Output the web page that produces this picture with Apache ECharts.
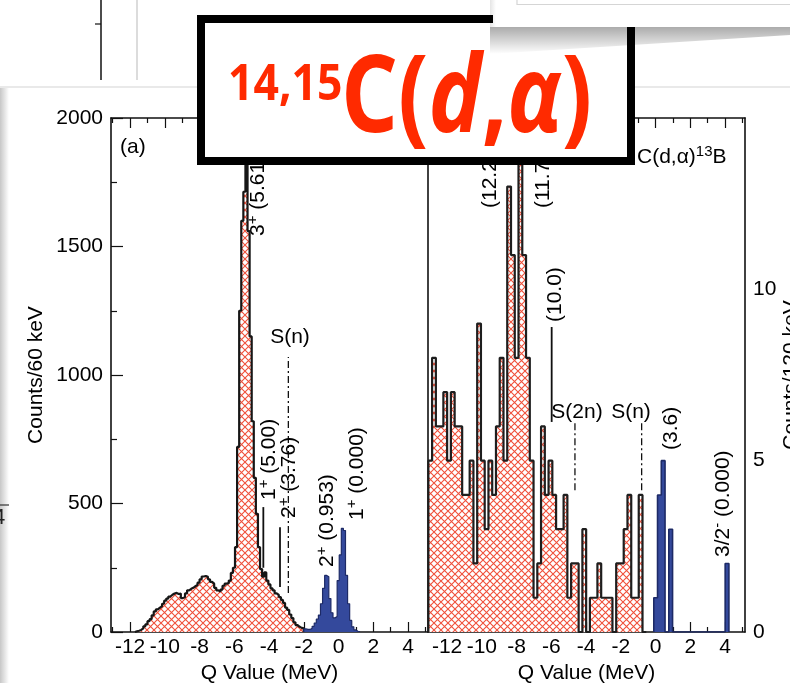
<!DOCTYPE html>
<html><head><meta charset="utf-8">
<script src="https://cdn.jsdelivr.net/npm/echarts@6/dist/echarts.min.js"></script>
<style>html,body{margin:0;padding:0;background:#fff}#c{width:790px;height:683px}</style>
</head><body><div id="c"></div>
<script>
// ---------------- data ----------------
const qMin = -13.1, qMax = 5.15;
const xTickLabels = [-12, -10, -8, -6, -4, -2, 0, 2, 4];
const xMinorTicks = [-13, -11, -9, -7, -5, -3, -1, 1, 3, 5];
const leftYLabels = [0, 500, 1000, 1500, 2000];
const leftYMinor = [250, 750, 1250, 1750];
const rightYLabels = [0, 5, 10];

// 14C(d,alpha) - counts per bin
const leftBinWidth = 0.12;
const leftRedStart = -11.72;
const leftRedCounts = [3,5,8,14,22,30,42,50,65,80,88,95,100,110,122,130,138,145,150,152,
  148,150,132,135,150,162,168,172,178,183,192,205,216,218,215,205,195,188,172,162,
  157,165,180,188,190,200,230,250,330,720,1250,1600,1713,1950,1560,1150,820,600,460,
  330,245,215,232,200,185,170,162,150,144,136,125,113,95,86,68,54,38,27,20,16,14];
const leftBlueStart = -2.0;
const leftBlueCounts = [12,10,10,14,22,35,50,66,110,170,220,215,130,75,55,60,200,300,403,395,220,110,45,20,8,3,2];

// 15C(d,alpha)13B - counts per bin
const rightBinWidth = 0.2163;
const rightRedStart = -13.08;
const rightRedCounts = [5,8,6,6,7,5,7,6,6,4,4,5,2,9,5,3,5,4,6,8,5,13,11,8,15,11,8,5,1,2,
  6,4,5,4,3,3,4,1,2,2,0,3,0,1,1,2,1,1,1,0,2,2,3,4,1,1,4,0];
const rightBlueFirstBin = 60;
const rightBlueCounts = [1,4,5,0,3,0,0,0,0,0,0,0,0,0,0,0,0,0,0,2];

// level / threshold markers: [Q, from count, to count, dashed]
const leftMarkers = [[-4.33, 250, 486, false], [-3.37, 175, 408, false], [-2.89, 152, 1070, true]];
const rightMarkers = [[-5.98, 6.13, 8.9, false], [-4.64, 4.14, 6.1, true], [-0.80, 4.14, 6.1, true]];

// ---------------- helpers ----------------
const FONT = '"Liberation Sans", Arial, Helvetica, sans-serif';
const plain = v => String(v);
function stepPoints(start, w, counts) {
  const pts = [[start, 0]];
  counts.forEach((c, i) => { pts.push([start + i * w, c]); pts.push([start + (i + 1) * w, c]); });
  pts.push([start + counts.length * w, 0]);
  return pts;
}
const pc = document.createElement('canvas');
pc.width = 7; pc.height = 7;
const g = pc.getContext('2d');
g.fillStyle = '#ffffff'; g.fillRect(0, 0, 7, 7);
g.strokeStyle = '#f0503a'; g.lineWidth = 1.1;
g.beginPath(); g.moveTo(-1, -1); g.lineTo(8, 8); g.moveTo(8, -1); g.lineTo(-1, 8); g.stroke();
const hatch = { image: pc, repeat: 'repeat' };

const lineCol = '#111';
function xAxes(gi) {
  const base = { gridIndex: gi, type: 'value', min: qMin, max: qMax, splitLine: { show: false }, axisLine: { show: false, onZero: false } };
  return [
    Object.assign({}, base, {
      position: 'bottom',
      axisLine: { show: true, onZero: false, lineStyle: { color: lineCol, width: 1.6 } },
      axisTick: { show: true, inside: true, length: 10, customValues: xTickLabels, lineStyle: { color: lineCol, width: 1.2 } },
      axisLabel: { show: true, customValues: xTickLabels, formatter: plain, margin: 5, fontSize: 21, color: '#000', fontFamily: FONT },
      name: 'Q Value (MeV)', nameLocation: 'middle', nameGap: 24,
      nameTextStyle: { fontSize: 21, color: '#000', fontFamily: FONT }
    }),
    Object.assign({}, base, {
      position: 'bottom',
      axisTick: { show: true, inside: true, length: 5, customValues: xMinorTicks, lineStyle: { color: lineCol, width: 1.2 } },
      axisLabel: { show: false }
    }),
    Object.assign({}, base, {
      position: 'top',
      axisLine: { show: true, onZero: false, lineStyle: { color: lineCol, width: 1.6 } },
      axisTick: { show: true, inside: true, length: 10, customValues: xTickLabels, lineStyle: { color: lineCol, width: 1.2 } },
      axisLabel: { show: false }
    }),
    Object.assign({}, base, {
      position: 'top',
      axisTick: { show: true, inside: true, length: 5, customValues: xMinorTicks, lineStyle: { color: lineCol, width: 1.2 } },
      axisLabel: { show: false }
    })
  ];
}

const yAxis = [
  { gridIndex: 0, type: 'value', min: 0, max: 2000, position: 'left', splitLine: { show: false },
    axisLine: { show: true, onZero: false, lineStyle: { color: lineCol, width: 1.6 } },
    axisTick: { show: true, inside: true, length: 12, customValues: leftYLabels, lineStyle: { color: lineCol, width: 1.2 } },
    axisLabel: { show: true, customValues: leftYLabels, formatter: plain, margin: 8, fontSize: 21, color: '#000', fontFamily: FONT },
    name: 'Counts/60 keV', nameLocation: 'middle', nameGap: 64, nameRotate: 90,
    nameTextStyle: { fontSize: 21, color: '#000', fontFamily: FONT } },
  { gridIndex: 0, type: 'value', min: 0, max: 2000, position: 'left', splitLine: { show: false },
    axisLine: { show: false, onZero: false }, axisLabel: { show: false },
    axisTick: { show: true, inside: true, length: 6, customValues: leftYMinor, lineStyle: { color: lineCol, width: 1.2 } } },
  { gridIndex: 0, type: 'value', min: 0, max: 2000, position: 'right', splitLine: { show: false },
    axisLine: { show: true, onZero: false, lineStyle: { color: lineCol, width: 1.6 } }, axisTick: { show: false }, axisLabel: { show: false } },
  { gridIndex: 1, type: 'value', min: 0, max: 15, position: 'right', splitLine: { show: false },
    axisLine: { show: true, onZero: false, lineStyle: { color: lineCol, width: 1.6 } }, axisTick: { show: false },
    axisLabel: { show: true, customValues: rightYLabels, formatter: plain, margin: 8, fontSize: 21, color: '#000', fontFamily: FONT },
    name: 'Counts/120 keV', nameLocation: 'middle', nameGap: 35, nameRotate: 90,
    nameTextStyle: { fontSize: 21, color: '#000', fontFamily: FONT } },
  { gridIndex: 1, type: 'value', min: 0, max: 15, position: 'left', splitLine: { show: false },
    axisLine: { show: false, onZero: false }, axisTick: { show: false }, axisLabel: { show: false } }
];

function histSeries(pts, xi, yi, area, lw, lc, z) {
  return { type: 'line', data: pts, xAxisIndex: xi, yAxisIndex: yi, symbol: 'none', animation: false, clip: true, z: z,
    lineStyle: { color: lc, width: lw }, areaStyle: { color: area, opacity: 1 } };
}
function markerSeries(m, xi, yi) {
  return { type: 'line', data: [[m[0], m[1]], [m[0], m[2]]], xAxisIndex: xi, yAxisIndex: yi, symbol: 'none', animation: false, z: 5,
    lineStyle: { color: '#111', width: m[3] ? 1.3 : 1.8, type: m[3] ? [7, 3, 2, 3] : 'solid' } };
}

const series = [
  histSeries(stepPoints(leftRedStart, leftBinWidth, leftRedCounts), 0, 0, hatch, 2.2, '#161616', 2),
  histSeries(stepPoints(leftBlueStart, leftBinWidth, leftBlueCounts), 0, 0, '#34499c', 1.2, '#1d2a66', 3),
  histSeries(stepPoints(rightRedStart, rightBinWidth, rightRedCounts), 4, 3, hatch, 2.2, '#1e1e1e', 2),
  histSeries(stepPoints(rightRedStart + rightBlueFirstBin * rightBinWidth, rightBinWidth, rightBlueCounts), 4, 3, '#34499c', 1.6, '#1d2a66', 3)
];
leftMarkers.forEach(m => series.push(markerSeries(m, 0, 0)));
rightMarkers.forEach(m => series.push(markerSeries(m, 4, 3)));

// ---------------- annotations ----------------
const rich = {
  n: { fontSize: 21, fontFamily: FONT, fill: '#000', lineHeight: 25 },
  s: { fontSize: 15, fontFamily: FONT, fill: '#000', verticalAlign: 'top', lineHeight: 25 }
};
function vtext(x, y, t) {
  return { type: 'text', x: x, y: y, rotation: Math.PI / 2, z: 20,
    style: { text: t, rich: rich, align: 'left', verticalAlign: 'middle' } };
}
function htext(x, y, t, align) {
  return { type: 'text', x: x, y: y, z: 20,
    style: { text: t, rich: rich, align: align || 'center', verticalAlign: 'middle' } };
}
const grad = (x0, y0, x1, y1, a) => new echarts.graphic.LinearGradient(x0, y0, x1, y1,
  [{ offset: 0, color: 'rgba(0,0,0,' + a + ')' }, { offset: 1, color: 'rgba(0,0,0,0)' }]);

const graphic = [
  // slide background pieces
  { type: 'line', z: 1, shape: { x1: 0, y1: 87, x2: 790, y2: 87 }, style: { stroke: '#e2e2e2', lineWidth: 1.5 } },
  { type: 'line', z: 1, shape: { x1: 101, y1: 0, x2: 101, y2: 80 }, style: { stroke: '#111', lineWidth: 1.5 } },
  { type: 'line', z: 1, shape: { x1: 95, y1: 24, x2: 101, y2: 24 }, style: { stroke: '#111', lineWidth: 1.2 } },
  { type: 'line', z: 1, shape: { x1: 137, y1: 0, x2: 137, y2: 80 }, style: { stroke: '#dcdcdc', lineWidth: 2 } },
  { type: 'rect', z: 1, shape: { x: 0, y: 88, width: 9, height: 595 }, style: { fill: grad(0, 0, 1, 0, 0.22) } },
  { type: 'line', z: 1, shape: { x1: 0, y1: 505, x2: 9, y2: 505 }, style: { stroke: '#333', lineWidth: 1.2 } },
  { type: 'text', z: 1, x: -7, y: 518, style: { text: '4', fontSize: 22, fontFamily: FONT, fill: '#222', verticalAlign: 'middle' } },
  // annotations
  htext(120, 147, '{n|(a)}', 'left'),
  vtext(258, 236, '{n|3}{s|+}{n| (5.61)}'),
  htext(290, 337, '{n|S(n)}'),
  vtext(269, 500, '{n|1}{s|+}{n| (5.00)}'),
  vtext(289, 518, '{n|2}{s|+}{n| (3.76)}'),
  vtext(327, 567, '{n|2}{s|+}{n| (0.953)}'),
  vtext(357, 520, '{n|1}{s|+}{n| (0.000)}'),
  vtext(490, 208, '{n|(12.2)}'),
  vtext(543, 208, '{n|(11.7)}'),
  vtext(555, 322, '{n|(10.0)}'),
  htext(577, 412, '{n|S(2n)}'),
  htext(631, 412, '{n|S(n)}'),
  vtext(671, 450, '{n|(3.6)}'),
  vtext(723, 557, '{n|3/2}{s|-}{n| (0.000)}'),
  htext(637, 157, '{n|C(d,α)}{s|13}{n|B}', 'left'),
  // title box
  { type: 'rect', z: 100, shape: { x: 201, y: 19, width: 430, height: 142 }, style: { fill: '#fff', stroke: '#000', lineWidth: 8 } },
  { type: 'text', z: 101, x: 228, y: 111, scaleX: 0.89,
    style: { text: '14,15', font: 'bold 50px "Open Sans", sans-serif', fill: '#ff2a00', align: 'left', verticalAlign: 'bottom' } },
  { type: 'text', z: 101, x: 341, y: 155, scaleX: 0.83,
    style: { text: '{d|C(}{i|d}{d|,}{i|α}{d|)}', align: 'left', verticalAlign: 'bottom',
      rich: { d: { font: 'bold 108px "Open Sans", sans-serif', fill: '#ff2a00' },
              i: { font: 'italic bold 108px "Open Sans", sans-serif', fill: '#ff2a00' } } } },
  // overlapping slide pieces at top right
  { type: 'polygon', z: 105, shape: { points: [[490, 27], [790, 27], [790, 35], [490, 54]] }, style: { fill: grad(0, 0, 0, 1, 0.33) } },
  { type: 'rect', z: 110, shape: { x: 493, y: 0, width: 297, height: 27 }, style: { fill: '#fff' } },
  { type: 'rect', z: 111, shape: { x: 490, y: 0, width: 6, height: 27 }, style: { fill: grad(0, 0, 1, 0, 0.1) } },
  { type: 'polyline', z: 111, shape: { points: [[517, 0], [517, 4.5], [790, 4.5]] }, style: { stroke: '#d5d5d5', lineWidth: 1.2, fill: null } }
];

const chart = echarts.init(document.getElementById('c'));
chart.setOption({
  backgroundColor: '#fff',
  animation: false,
  grid: [
    { left: 111, top: 118, width: 317, height: 514, outerBoundsMode: 'none', containLabel: false },
    { left: 428, top: 118, width: 317, height: 514, outerBoundsMode: 'none', containLabel: false }
  ],
  xAxis: xAxes(0).concat(xAxes(1)),
  yAxis: yAxis,
  series: series,
  graphic: graphic
});
</script></body></html>
